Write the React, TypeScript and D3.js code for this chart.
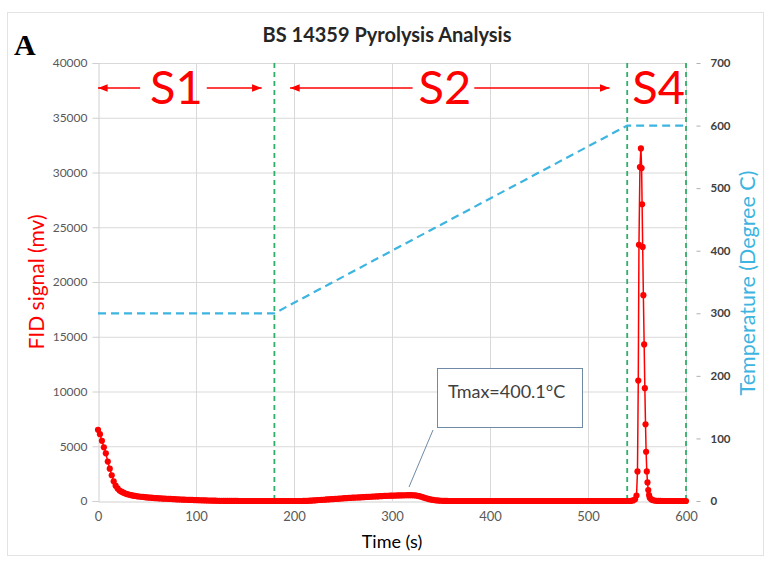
import React, { useEffect, useRef } from "react";
import * as d3 from "d3";

// FID signal (mv), one reading every 2 s from t = 0 to t = 546
const fidBaseline = [
  6500, 6100, 5500, 4900, 4350, 3600, 2950, 2350, 1800, 1400,
  1150, 950, 850, 760, 680, 620, 570, 530, 490, 460,
  430, 410, 390, 370, 350, 330, 315, 300, 285, 270,
  255, 245, 235, 225, 215, 205, 195, 185, 175, 165,
  155, 145, 138, 130, 122, 115, 108, 100, 94, 88,
  82, 76, 70, 64, 58, 52, 46, 40, 35, 30,
  26, 22, 18, 15, 12, 10, 8, 6, 5, 4,
  3, 3, 2, 2, 2, 1, 1, 1, 0, 0,
  0, 0, 0, 0, 0, 0, 0, 0, 0, 0,
  0, 0, 0, 0, 0, 0, 0, 0, 0, 0,
  0, 0, 0, 0, 0, 5, 10, 20, 30, 40,
  55, 65, 80, 90, 105, 115, 130, 140, 155, 165,
  180, 190, 205, 215, 230, 240, 255, 265, 280, 290,
  300, 310, 320, 330, 340, 350, 360, 370, 380, 390,
  400, 410, 420, 430, 440, 450, 460, 470, 480, 485,
  490, 495, 500, 505, 510, 515, 520, 525, 530, 530,
  530, 525, 510, 480, 440, 390, 330, 270, 220, 170,
  130, 95, 70, 50, 35, 25, 15, 10, 5, 0,
  0, 0, 0, 0, 0, 0, 0, 0, 0, 0,
  0, 0, 0, 0, 0, 0, 0, 0, 0, 0,
  0, 0, 0, 0, 0, 0, 0, 0, 0, 0,
  0, 0, 0, 0, 0, 0, 0, 0, 0, 0,
  0, 0, 0, 0, 0, 0, 0, 0, 0, 0,
  0, 0, 0, 0, 0, 0, 0, 0, 0, 0,
  0, 0, 0, 0, 0, 0, 0, 0, 0, 0,
  0, 0, 0, 0, 0, 0, 0, 0, 0, 0,
  0, 0, 0, 0, 0, 0, 0, 0, 0, 0,
  0, 0, 20, 50,
];

// S4 peak, sampled faster
const peakTime = [
  548, 549.5, 550.5, 551.3, 552, 553, 554, 554.7, 555.2, 555.8,
  556.5, 557.3, 558, 558.7, 559.3, 560, 560.7, 561.5, 562.3, 563,
  564.5, 566,
];
const peakSignal = [
  150, 500, 2700, 11000, 23400, 30500, 32200, 30400, 27100, 23200,
  18800, 14300, 10300, 7000, 4500, 2700, 1700, 1000, 550, 300,
  150, 80,
];

// after the peak, every 2 s from t = 568 to t = 600
const fidTail = [40, 20, 10, 5, 0, 0, 0, 0, 0, 0, 0, 0, 0, 0, 0, 0, 0];

// furnace temperature program (Degree C)
const tempTime = [0, 180, 540, 600];
const tempValue = [300, 300, 600, 600];

const stageBounds = [180, 540, 600];
const xTicks = [0, 100, 200, 300, 400, 500, 600];
const yTicks = [0, 5000, 10000, 15000, 20000, 25000, 30000, 35000, 40000];
const tempTicks = [0, 100, 200, 300, 400, 500, 600, 700];

// stage names, their centre (s), and arrow spans (s) from tail to head
const stageNames = ["S1", "S2", "S4"];
const stageCentres = [80, 354, 572];
const arrowSpans: [number, number][] = [
  [43, 0],
  [111, 167],
  [321, 196],
  [384, 522],
];

const RED = "#ff0000";
const BLUE = "#3db5e0";
const GREEN = "#2fae6a";
const FONT = "Lato, 'Open Sans', sans-serif";

const App = () => {
  const svgRef = useRef<SVGSVGElement>(null);

  useEffect(() => {
    const svg = d3.select(svgRef.current);
    svg.selectAll("*").remove();

    const fid: [number, number][] = [
      ...fidBaseline.map((v, i) => [i * 2, v] as [number, number]),
      ...peakTime.map((t, i) => [t, peakSignal[i]] as [number, number]),
      ...fidTail.map((v, i) => [568 + i * 2, v] as [number, number]),
    ];

    const x = d3.scaleLinear().domain([0, 600]).range([98, 686]);
    const y = d3.scaleLinear().domain([0, 40000]).range([501, 63]);
    const yT = d3.scaleLinear().domain([0, 700]).range([501, 63]);

    // outer frame
    svg
      .append("rect")
      .attr("x", 7.5)
      .attr("y", 12.5)
      .attr("width", 756)
      .attr("height", 543)
      .attr("fill", "#fff")
      .attr("stroke", "#e3e3e3");

    // grid
    svg
      .append("g")
      .selectAll("line")
      .data(yTicks.slice(1))
      .enter()
      .append("line")
      .attr("x1", 98)
      .attr("x2", 686)
      .attr("y1", (d) => y(d) + 0.5)
      .attr("y2", (d) => y(d) + 0.5)
      .attr("stroke", "#d9d9d9");
    svg
      .append("g")
      .selectAll("line")
      .data(xTicks.slice(1))
      .enter()
      .append("line")
      .attr("x1", (d) => x(d) + 0.5)
      .attr("x2", (d) => x(d) + 0.5)
      .attr("y1", 63)
      .attr("y2", 501)
      .attr("stroke", "#d9d9d9");

    // left axis
    const left = svg
      .append("g")
      .attr("transform", "translate(98.5,0)")
      .call(
        d3
          .axisLeft(y)
          .tickValues(yTicks)
          .tickFormat(d3.format("d"))
          .tickSize(6)
          .tickPadding(5)
      );
    left.select(".domain").attr("stroke", "#d0d0d0");
    left.selectAll(".tick line").attr("stroke", "#d0d0d0");
    left
      .selectAll("text")
      .attr("fill", "#595959")
      .attr("font-family", FONT)
      .attr("font-size", 12);

    // bottom axis
    const bottom = svg
      .append("g")
      .attr("transform", "translate(0,501.5)")
      .call(d3.axisBottom(x).tickValues(xTicks).tickSize(0).tickPadding(10));
    bottom.select(".domain").attr("stroke", "#d0d0d0");
    bottom
      .selectAll("text")
      .attr("fill", "#595959")
      .attr("font-family", FONT)
      .attr("font-size", 13);

    // right axis
    const right = svg
      .append("g")
      .attr("transform", "translate(686.5,0)")
      .call(d3.axisRight(yT).tickValues(tempTicks).tickSize(14).tickPadding(10));
    right.select(".domain").remove();
    right.selectAll(".tick line").attr("x1", 10).attr("stroke", "#b0b0b0");
    right
      .selectAll("text")
      .attr("fill", "#404040")
      .attr("font-family", FONT)
      .attr("font-weight", "bold")
      .attr("font-size", 11.5);

    // stage boundaries
    svg
      .append("g")
      .selectAll("line")
      .data(stageBounds)
      .enter()
      .append("line")
      .attr("x1", (d) => x(d))
      .attr("x2", (d) => x(d))
      .attr("y1", 63)
      .attr("y2", 501)
      .attr("stroke", GREEN)
      .attr("stroke-width", 1.8)
      .attr("stroke-dasharray", "5,4");

    // temperature program
    svg
      .append("path")
      .datum(tempTime.map((t, i) => [t, tempValue[i]] as [number, number]))
      .attr("fill", "none")
      .attr("stroke", BLUE)
      .attr("stroke-width", 2.2)
      .attr("stroke-dasharray", "8,5")
      .attr(
        "d",
        d3
          .line<[number, number]>()
          .x((d) => x(d[0]))
          .y((d) => yT(d[1]))
      );

    // FID signal
    svg
      .append("path")
      .datum(fid)
      .attr("fill", "none")
      .attr("stroke", RED)
      .attr("stroke-width", 1.5)
      .attr(
        "d",
        d3
          .line<[number, number]>()
          .x((d) => x(d[0]))
          .y((d) => y(d[1]))
      );
    svg
      .append("g")
      .selectAll("circle")
      .data(fid)
      .enter()
      .append("circle")
      .attr("cx", (d) => x(d[0]))
      .attr("cy", (d) => y(d[1]))
      .attr("r", 3.1)
      .attr("fill", RED);

    // stage labels with arrows
    const defs = svg.append("defs");
    defs
      .append("marker")
      .attr("id", "arr")
      .attr("viewBox", "0 0 10 10")
      .attr("refX", 10)
      .attr("refY", 5)
      .attr("markerWidth", 6)
      .attr("markerHeight", 6)
      .attr("orient", "auto-start-reverse")
      .append("path")
      .attr("d", "M0,1L10,5L0,9Z")
      .attr("fill", RED);

    const arrowY = 88;
    arrowSpans.forEach(([a, b]) => {
      svg
        .append("line")
        .attr("x1", x(a))
        .attr("x2", x(b))
        .attr("y1", arrowY)
        .attr("y2", arrowY)
        .attr("stroke", RED)
        .attr("stroke-width", 1.6)
        .attr("marker-end", "url(#arr)");
    });
    svg
      .append("g")
      .selectAll("text")
      .data(stageNames)
      .enter()
      .append("text")
      .attr("x", (d, i) => x(stageCentres[i]))
      .attr("y", 104)
      .attr("text-anchor", "middle")
      .attr("font-family", FONT)
      .attr("font-size", 47)
      .attr("fill", RED)
      .text((d) => d);

    // Tmax call-out
    svg
      .append("line")
      .attr("x1", 433)
      .attr("y1", 430)
      .attr("x2", 409)
      .attr("y2", 487)
      .attr("stroke", "#6f8aa6")
      .attr("stroke-width", 1);
    svg
      .append("rect")
      .attr("x", 437.5)
      .attr("y", 368.5)
      .attr("width", 145)
      .attr("height", 59)
      .attr("fill", "#fff")
      .attr("stroke", "#6f8aa6");
    svg
      .append("text")
      .attr("x", 448)
      .attr("y", 398)
      .attr("font-family", FONT)
      .attr("font-size", 18)
      .attr("fill", "#404040")
      .text("Tmax=400.1°C");

    // titles
    svg
      .append("text")
      .attr("x", 387)
      .attr("y", 42)
      .attr("text-anchor", "middle")
      .attr("font-family", FONT)
      .attr("font-weight", "bold")
      .attr("font-size", 20)
      .attr("fill", "#262626")
      .text("BS 14359 Pyrolysis Analysis");
    svg
      .append("text")
      .attr("x", 14)
      .attr("y", 55)
      .attr("font-family", "'Liberation Serif', 'DejaVu Serif', serif")
      .attr("font-weight", "bold")
      .attr("font-size", 30)
      .attr("fill", "#000")
      .text("A");
    svg
      .append("text")
      .attr("x", 392)
      .attr("y", 548)
      .attr("text-anchor", "middle")
      .attr("font-family", FONT)
      .attr("font-size", 18)
      .attr("fill", "#000")
      .text("Time (s)");
    svg
      .append("text")
      .attr("transform", "translate(44,282) rotate(-90)")
      .attr("text-anchor", "middle")
      .attr("font-family", FONT)
      .attr("font-size", 21)
      .attr("fill", RED)
      .text("FID signal (mv)");
    svg
      .append("text")
      .attr("transform", "translate(755,283) rotate(-90)")
      .attr("text-anchor", "middle")
      .attr("font-family", FONT)
      .attr("font-size", 21.5)
      .attr("fill", BLUE)
      .text("Temperature (Degree C)");
  }, []);

  return (
    <svg
      ref={svgRef}
      width={770}
      height={562}
      style={{ position: "absolute", left: 0, top: 0, background: "#fff" }}
    ></svg>
  );
};

export default App;
